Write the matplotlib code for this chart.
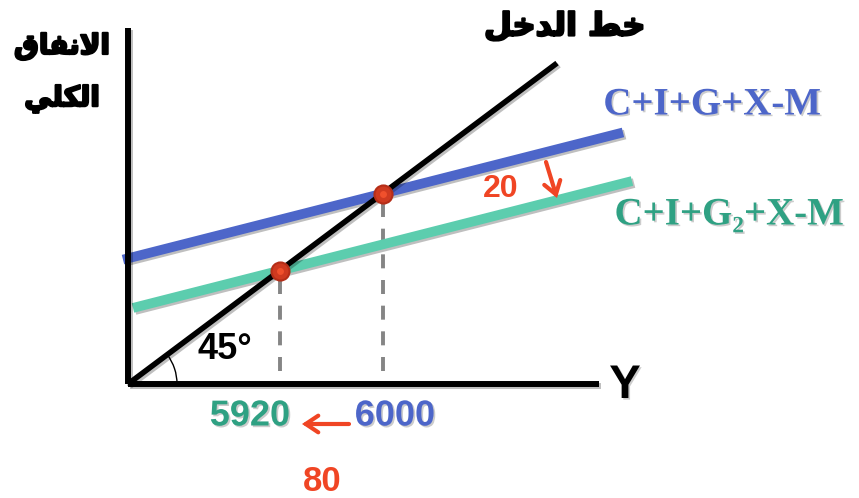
import matplotlib
matplotlib.use("Agg")
import matplotlib.pyplot as plt
import matplotlib.patheffects as pe
from matplotlib.patches import Arc, FancyArrowPatch
import numpy as np

# ---------------- data ----------------
# 45-degree income line (Y = AE), in abstract income units
income_line_x = [0, 429]
# aggregate expenditure lines: AE = intercept + slope * Y
ae_names = ["C+I+G+X-M", "C+I+G\u2082+X-M"]
ae_intercepts = [168.0, 100.0]
ae_slope = 0.34
ae_x_start = [-5, 5]
ae_x_end = [495, 504]
eq_labels = ["6000", "5920"]
shift_ae_label = "20"
shift_y_label = "80"
angle_label = "45\u00b0"
x_axis_label = "Y"
# Arabic labels (pre-shaped presentation forms, visual order)
y_axis_label = ["\ufed5\ufe8e\ufed4\ufee7\ufefb\ufe8d", "\ufef2\ufee0\ufedc\ufedf\ufe8d"]  # الانفاق / الكلي
income_line_label = "\ufede\ufea7\ufeaa\ufedf\ufe8d \ufec2\ufea7"  # خط الدخل

# ---------------- style ----------------
BLUE = "#4d66c9"
GREEN_LINE = "#5ccdae"
GREEN_TXT = "#2fa183"
RED = "#f04524"
DOT = "#cf3a20"
GREY = "#858585"

W, H = 859, 498
fig = plt.figure(figsize=(W / 100, H / 100), dpi=100)
ax = fig.add_axes([0, 0, 1, 1])
ox, oy = 128, 384          # pixel position of the origin
ky = 0.748                 # vertical pixels per data unit
ax.set_xlim(-ox, W - ox)
ax.set_ylim(-(H - oy) / ky, oy / ky)
ax.axis("off")

def px(x, y):
    return (x / W, 1 - y / H)

shadow = [pe.SimpleLineShadow(offset=(1.5, -1.5), alpha=0.25, shadow_color="black"), pe.Normal()]
tshadow = [pe.withSimplePatchShadow(offset=(1.2, -1.2), alpha=0.2, shadow_rgbFace="black")]

# axes
ax.plot([0, 0], [0, (oy - 28) / ky], color="black", lw=4.3, solid_capstyle="butt", path_effects=shadow, zorder=5)
ax.plot([0, 471], [0, 0], color="black", lw=4.3, solid_capstyle="butt", path_effects=shadow, zorder=5)

# AE lines
colors = [BLUE, GREEN_LINE]
eq_x = []
for b, x0, x1, c in zip(ae_intercepts, ae_x_start, ae_x_end, colors):
    xs = np.array([x0, x1])
    ax.plot(xs, b + ae_slope * xs, color=c, lw=7, solid_capstyle="butt", path_effects=shadow, zorder=3)
    eq_x.append(b / (1 - ae_slope))

# 45 degree line
ax.plot(income_line_x, income_line_x, color="black", lw=4.0, solid_capstyle="butt", path_effects=shadow, zorder=4)

# dashed drop lines and equilibrium dots
for xe in eq_x:
    ax.plot([xe, xe], [xe - 12, 14], color=GREY, lw=2.8, ls=(0, (3.6, 3.0)), zorder=2)
    ax.plot([xe], [xe], marker="o", ms=13, color=DOT, mec="#b52e18", mew=1.5, zorder=6)
    ax.plot([xe], [xe], marker="o", ms=5, color="#f0502c", mec="none", zorder=7)

# 45 degree arc
r = 49
ax.add_patch(Arc((0, 0), 2 * r, 2 * r / ky, theta1=0, theta2=45, color="black", lw=1.0, zorder=5))

heavy = [pe.withStroke(linewidth=1.6, foreground="black")]
arabic = dict(family=["DejaVu Sans"], fontweight="bold", color="black", path_effects=heavy)
fig.text(*px(565, 27), income_line_label, fontsize=23, ha="center", va="center", **arabic)
fig.text(*px(62, 46), y_axis_label[0], fontsize=20, ha="center", va="center", **arabic)
fig.text(*px(62, 99), y_axis_label[1], fontsize=20, ha="center", va="center", **arabic)

serif = ["Liberation Serif", "DejaVu Serif"]
fig.text(*px(712, 105), ae_names[0], fontsize=28, fontweight="bold", family=serif, color=BLUE,
         ha="center", va="center", path_effects=tshadow)
fig.text(*px(729, 215), ae_names[1], fontsize=28, fontweight="bold", family=serif, color=GREEN_TXT,
         ha="center", va="center", path_effects=tshadow)

sans = ["Liberation Sans", "DejaVu Sans"]
fig.text(*px(225, 349), angle_label, fontsize=26, fontweight="bold", family=sans, color="black",
         ha="center", va="center")
fig.text(*px(625, 386), x_axis_label, fontsize=34, fontweight="bold", family=sans, color="black",
         ha="center", va="center", path_effects=tshadow)
fig.text(*px(250, 416), eq_labels[1], fontsize=26, fontweight="bold", family=sans, color=GREEN_TXT,
         ha="center", va="center", path_effects=tshadow)
fig.text(*px(395, 416), eq_labels[0], fontsize=26, fontweight="bold", family=sans, color=BLUE,
         ha="center", va="center", path_effects=tshadow)
fig.text(*px(322, 481), shift_y_label, fontsize=25, fontweight="bold", family=sans, color=RED,
         ha="center", va="center")
fig.text(*px(501, 189), shift_ae_label, fontsize=23, fontweight="bold", family=sans, color=RED,
         ha="center", va="center")

# red arrows
for start, end in [((349, 424), (302, 424)), ((546, 162), (557, 198))]:
    fig.patches.append(FancyArrowPatch(px(*start), px(*end), transform=fig.transFigure,
                                       arrowstyle="->,head_length=9,head_width=6", color=RED,
                                       lw=3, mutation_scale=1, shrinkA=0, shrinkB=0,
                                       capstyle="round", joinstyle="miter"))

fig.savefig("out.png", dpi=100)
